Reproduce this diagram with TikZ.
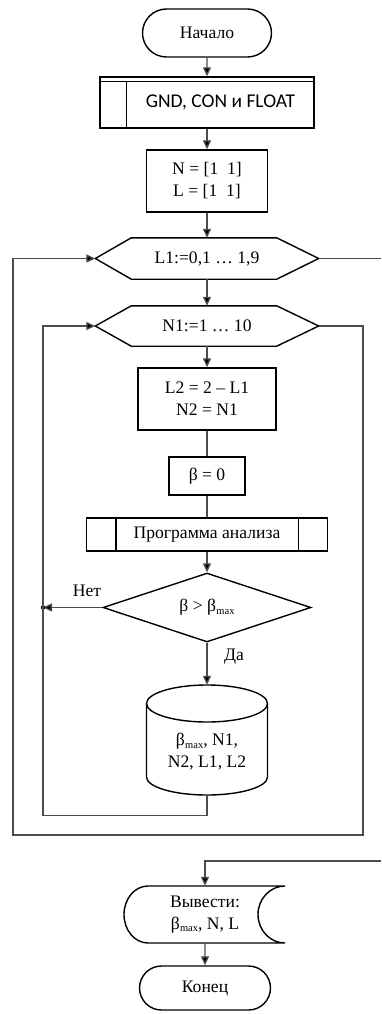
\documentclass[tikz,border=0pt]{standalone}
\usepackage{fontspec}
\setmainfont{Liberation Serif}
\newfontfamily\calib{Carlito}
\usetikzlibrary{arrows.meta,shapes.geometric,shapes.misc}
\newcommand{\bmx}{β\kern0.3pt\raisebox{-0.3ex}{\fontsize{10.5}{10.5}\selectfont max}}
\begin{document}
\begin{tikzpicture}[x=1pt,y=1pt,
  font=\fontsize{17.6}{22}\selectfont,
  shp/.style={draw=black, line width=1.4pt},
  box/.style={shp, rectangle, inner sep=0pt, align=center},
  term/.style={shp, rounded rectangle, inner sep=0pt},
  ghost/.style={inner sep=0pt, align=center},
  ln/.style={draw=black!70, line width=1.3pt},
  arr/.style={ln, -{Triangle[length=9pt,width=8pt,fill=black]}}
]
\useasboundingbox (0,0) rectangle (381,-1014);

% nodes
\node[term, minimum width=129pt, minimum height=48pt] (start) at (207,-33) {Начало};
\node[box, minimum width=214pt, minimum height=51pt, font=\calib\fontsize{19.5}{23}\selectfont] (gnd) at (207,-102.5) {\hspace*{27pt}GND, CON и FLOAT};
\draw[shp] ([yshift=-5pt]gnd.north west) -- ([yshift=-5pt]gnd.north east);
\draw[shp] ([yshift=-5pt,xshift=27pt]gnd.north west) -- ([xshift=27pt]gnd.south west);
\node[box, minimum width=121pt, minimum height=62pt] (nbox) at (207,-181) {N = [1\,\,\,1]\\L = [1\,\,\,1]};

\node[ghost, minimum width=223pt, minimum height=41pt] (l1) at (207,-258.5) {L1:=0,1 … 1,9};
\draw[shp] (l1.west) -- ([xshift=36pt]l1.north west) -- ([xshift=-42pt]l1.north east) -- (l1.east) -- ([xshift=-42pt]l1.south east) -- ([xshift=36pt]l1.south west) -- cycle;

\node[ghost, minimum width=223pt, minimum height=40pt] (n1) at (207,-326) {N1:=1 … 10};
\draw[shp] (n1.west) -- ([xshift=36pt]n1.north west) -- ([xshift=-42pt]n1.north east) -- (n1.east) -- ([xshift=-42pt]n1.south east) -- ([xshift=36pt]n1.south west) -- cycle;

\node[box, minimum width=138pt, minimum height=62pt] (l2) at (207,-399) {L2 = 2 – L1\\N2 = N1};
\node[box, minimum width=76pt, minimum height=38pt] (beta) at (207,-476) {β = 0};
\node[box, minimum width=241pt, minimum height=33pt] (prog) at (207,-534.5) {Программа анализа};
\draw[shp] ([xshift=30pt]prog.north west) -- ([xshift=30pt]prog.south west);
\draw[shp] ([xshift=-30pt]prog.north east) -- ([xshift=-30pt]prog.south east);

\node[shp, diamond, aspect=3, inner sep=0pt, minimum width=208pt, minimum height=69pt] (dia) at (207,-607.5) {β > \bmx};

\node[ghost, minimum width=121pt, minimum height=110pt] (cyl) at (207,-740) {};
\draw[shp] (207,-703.5) ellipse [x radius=60.5pt, y radius=18.5pt];
\draw[shp] (146.5,-703.5) -- (146.5,-777) arc[start angle=180, end angle=360, x radius=60.5pt, y radius=18pt] -- (267.5,-703.5);
\node[ghost] (cyltxt) at (207,-752) {\bmx, N1,\\N2, L1, L2};

\node[ghost, minimum width=162pt, minimum height=57pt] (out) at (205,-914.5) {Вывести:\\\bmx, N, L};
\draw[shp] (285,-886) -- (148,-886) arc[start angle=90, end angle=270, x radius=24pt, y radius=28.5pt] -- (285,-943) arc[start angle=270, end angle=90, x radius=27pt, y radius=28.5pt];

\node[term, minimum width=131pt, minimum height=44pt] (end) at (205,-988) {Конец};

\node (no) at (87,-591) {Нет};
\node (yes) at (234,-657) {Да};

% coordinates
\coordinate (j) at (43,-607.5);
\coordinate (c1) at (363,-835);
\coordinate (c2) at (13,-835);
\coordinate (e1) at (381,-258.5);
\coordinate (e2) at (381,-861);

% connectors
\draw[arr] (start) -- (gnd);
\draw[arr] (gnd) -- (nbox);
\draw[arr] (nbox) -- (l1.north);
\draw[arr] (l1.south) -- (n1.north);
\draw[arr] (n1.south) -- (l2);
\draw[ln] (l2) -- (beta);
\draw[ln] (beta) -- (prog);
\draw[arr] (prog) -- (dia);
\draw[arr] (dia) -- (cyl.north);
\draw[arr] (dia.west) -- (j);
\fill (j) circle (2.2pt);
\draw[arr] (cyl.south) -- ++(0,-20) -| (j) |- (n1.west);
\draw[arr] (n1.east) -| (c1) -- (c2) |- (l1.west);
\draw[ln] (l1.east) -- (e1);
\draw[arr] (e2) -| (out.north);
\draw[arr] (out) -- (end);
\end{tikzpicture}
\end{document}
